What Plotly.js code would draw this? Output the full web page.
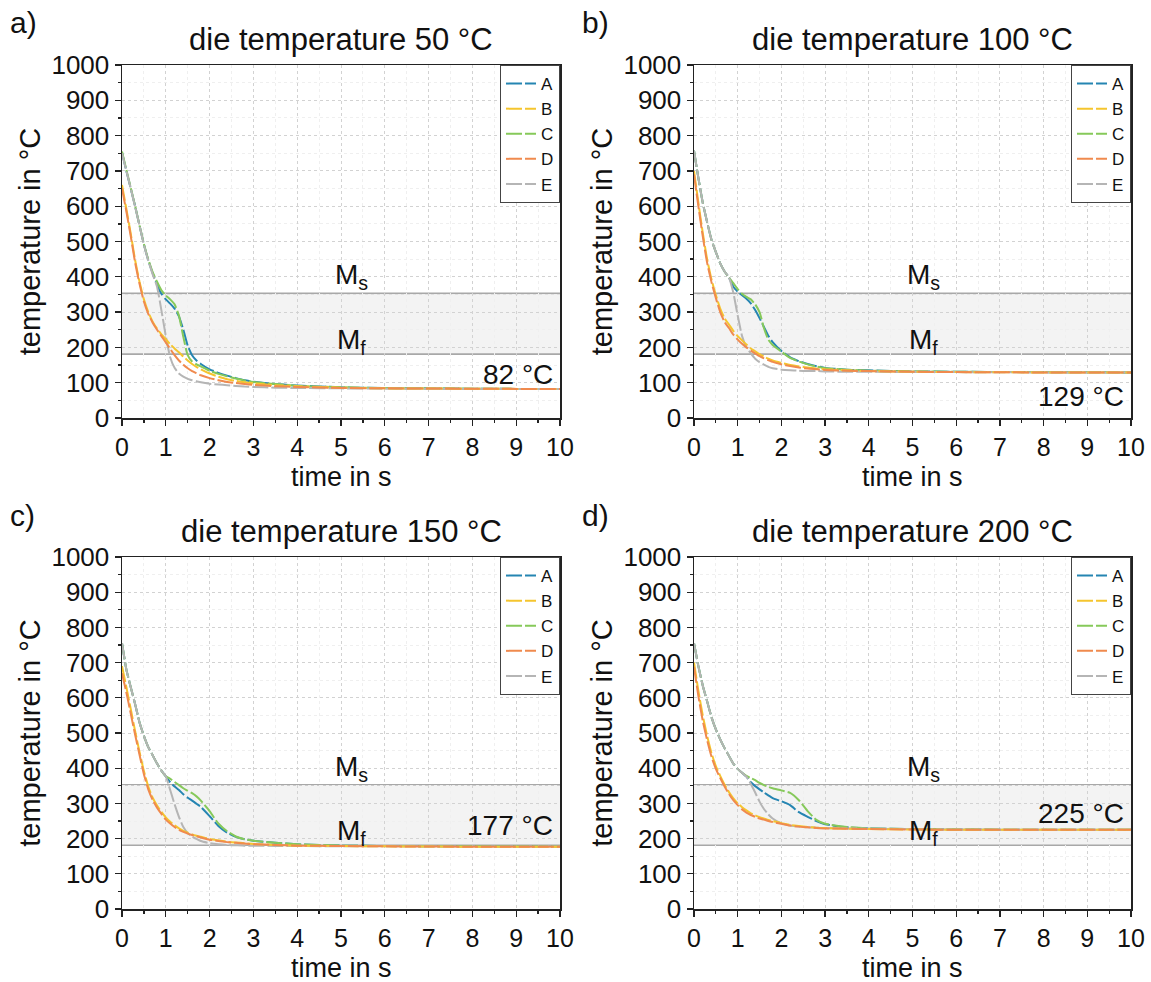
<!DOCTYPE html>
<html>
<head>
<meta charset="utf-8">
<script src="https://cdn.plot.ly/plotly-3.0.1.min.js"></script>
<style>html,body{margin:0;padding:0;background:#fff;}#chart{width:1151px;height:982px;}</style>
</head>
<body>
<div id="chart"></div>
<script>
// ---------------- data ----------------
const time = [0, 0.1, 0.2, 0.3, 0.4, 0.5, 0.6, 0.7, 0.8, 0.9, 1.0, 1.1, 1.2, 1.3, 1.4, 1.5, 1.6, 1.7, 1.8, 2.0, 2.2, 2.4, 2.6, 2.8, 3.0, 3.5, 4.0, 5.0, 6.0, 8.0, 10.0];
const seriesNames = ["A", "B", "C", "D", "E"];
const panelTitles = ["die temperature 50 °C", "die temperature 100 °C", "die temperature 150 °C", "die temperature 200 °C"];
const panelLetters = ["a)", "b)", "c)", "d)"];
const xAxisTitle = "time in s";
const yAxisTitle = "temperature in °C";
const finalLabels = ["82 °C", "129 °C", "177 °C", "225 °C"];
const finalLabelY = [124, 60, 238, 272];
const Ms = 353;
const Mf = 181;

// panel a: die 50 °C
const A_50 = [752,700,650,600,545,492,447,410,378,352,336,324,310,288,250,205,178,163,153,138,128,120,113,107,103,96,92,87,85,83,82];
const B_50 = [660,592,522,447,386,336,300,273,253,237,223,209,197,186,174,163,153,145,138,126,117,110,105,101,98,93,90,86,84,83,82];
const C_50 = [755,703,652,600,546,493,449,413,386,362,347,336,322,290,230,178,160,152,146,134,125,118,112,106,102,96,91,87,85,83,82];
const D_50 = [650,585,515,440,380,330,295,270,250,232,214,196,178,163,151,141,133,127,121,113,107,102,99,96,94,90,88,85,84,83,82];
const E_50 = [750,700,650,598,545,490,446,407,372,305,232,172,142,126,117,111,107,104,101,97,95,93,91,89,88,86,85,84,83,82,82];

// panel b: die 100 °C
const A_100 = [757,680,610,555,505,470,438,415,398,372,358,348,338,325,306,283,258,233,215,190,172,161,153,147,142,137,135,132,131,130,129];
const B_100 = [700,610,525,450,393,348,310,282,265,247,232,220,208,197,189,181,174,168,163,156,150,146,143,140,138,135,133,131,130,129,129];
const C_100 = [757,680,610,555,505,470,438,415,398,382,365,352,343,336,322,300,255,222,207,188,170,160,152,146,141,137,134,132,131,130,129];
const D_100 = [690,600,515,440,385,340,300,272,255,236,222,210,200,191,183,175,169,164,159,152,147,143,140,138,136,134,133,131,130,129,129];
const E_100 = [757,680,610,555,505,470,438,415,398,355,290,232,200,183,168,158,151,145,141,137,135,134,133,133,132,131,131,130,130,129,129];

// panel c: die 150 °C
const A_150 = [755,680,630,582,530,492,460,437,413,393,377,360,348,338,326,316,308,299,290,264,236,217,205,198,194,188,184,180,179,178,177];
const B_150 = [690,630,568,505,446,392,348,316,294,276,260,248,238,229,222,217,212,208,205,199,195,191,189,187,185,182,180,179,178,177,177];
const C_150 = [755,680,630,582,530,492,460,437,413,393,377,370,361,352,343,336,329,320,308,278,243,221,206,198,194,188,184,180,179,178,177];
const D_150 = [670,615,555,495,438,383,340,310,288,270,254,243,233,225,219,214,210,207,203,197,193,190,188,186,184,182,180,179,178,177,177];
const E_150 = [755,680,630,582,530,492,460,437,413,393,377,338,298,262,233,216,206,199,193,187,184,182,181,180,180,179,179,178,178,177,177];

// panel d: die 200 °C
const A_200 = [755,690,635,590,545,510,482,457,435,413,398,387,376,360,349,340,331,323,315,306,295,275,262,250,241,232,229,227,226,225,225];
const B_200 = [700,620,550,492,443,406,378,353,332,314,300,289,280,272,266,261,257,253,250,244,239,236,233,231,230,228,227,226,225,225,225];
const C_200 = [755,690,635,590,545,510,482,457,435,413,398,387,378,372,366,358,352,347,343,337,330,309,278,253,242,233,229,227,226,225,225];
const D_200 = [688,605,535,480,433,398,372,348,327,309,295,283,274,267,262,257,254,250,247,242,237,234,232,230,229,228,227,226,225,225,225];
const E_200 = [755,690,635,590,545,510,482,457,435,413,398,387,376,355,331,305,284,269,257,243,237,234,232,231,230,229,228,227,226,225,225];

const panelData = [
  [A_50, B_50, C_50, D_50, E_50],
  [A_100, B_100, C_100, D_100, E_100],
  [A_150, B_150, C_150, D_150, E_150],
  [A_200, B_200, C_200, D_200, E_200]
];

const xTickVals = [0,1,2,3,4,5,6,7,8,9,10];
const yTickVals = [0,100,200,300,400,500,600,700,800,900,1000];

// ---------------- styling ----------------
const colors = ["#2585b2", "#f5c52e", "#86c95a", "#f08a4e", "#b5b5b5"];
const FONT = "Liberation Sans, Arial, Helvetica, sans-serif";
const W = 1151, H = 982;
const colPx = [[122, 560], [694, 1131]];
const rowPx = [[65, 418], [557, 909]];

const traces = [];
const layout = {
  width: W, height: H,
  margin: {l: 0, r: 0, t: 0, b: 0},
  paper_bgcolor: "#ffffff",
  plot_bgcolor: "#ffffff",
  font: {family: FONT, color: "#111"},
  showlegend: true,
  shapes: [],
  annotations: []
};

const drawOrder = [0, 2, 4, 1, 3];

for (let p = 0; p < 4; p++) {
  const col = p % 2, row = Math.floor(p / 2);
  const xd = [colPx[col][0] / W, colPx[col][1] / W];
  const yd = [1 - rowPx[row][1] / H, 1 - rowPx[row][0] / H];
  const n = p + 1;
  const xs = n === 1 ? "x" : "x" + n;
  const ys = n === 1 ? "y" : "y" + n;
  const xk = n === 1 ? "xaxis" : "xaxis" + n;
  const yk = n === 1 ? "yaxis" : "yaxis" + n;
  const lg = n === 1 ? "legend" : "legend" + n;

  layout[xk] = {
    domain: xd, anchor: ys, range: [0, 10], tickvals: xTickVals,
    ticks: "outside", ticklen: 6, tickwidth: 1.3, tickcolor: "#222",
    showline: true, linecolor: "#222", linewidth: 1.5, mirror: true,
    showgrid: true, gridcolor: "#d2d2d2", griddash: "dot", gridwidth: 1,
    zeroline: false, tickfont: {family: FONT, size: 25, color: "#111"},
    minor: {dtick: 0.5, ticks: "outside", ticklen: 3, tickcolor: "#222", showgrid: true, gridcolor: "#efefef", gridwidth: 1}
  };
  layout[yk] = {
    domain: yd, anchor: xs, range: [0, 1000], tickvals: yTickVals,
    ticks: "outside", ticklen: 6, tickwidth: 1.3, tickcolor: "#222",
    showline: true, linecolor: "#222", linewidth: 1.5, mirror: true,
    showgrid: true, gridcolor: "#d2d2d2", griddash: "dot", gridwidth: 1,
    zeroline: false, tickfont: {family: FONT, size: 26, color: "#111"},
    minor: {dtick: 50, ticks: "outside", ticklen: 3, tickcolor: "#222", showgrid: true, gridcolor: "#efefef", gridwidth: 1},
    title: {text: yAxisTitle, font: {family: FONT, size: 29, color: "#111"}, standoff: 2}
  };
  layout["xaxis" + (n + 4)] = {
    overlaying: xs, anchor: ys, side: "top", range: [0, 10], tickvals: xTickVals,
    ticks: "inside", ticklen: 6, tickwidth: 1.3, tickcolor: "#222",
    showticklabels: false, showgrid: false, showline: false, zeroline: false,
    minor: {dtick: 0.5, ticks: "inside", ticklen: 3, tickcolor: "#222", showgrid: false}
  };
  layout["yaxis" + (n + 4)] = {
    overlaying: ys, anchor: xs, side: "right", range: [0, 1000], tickvals: yTickVals,
    ticks: "inside", ticklen: 6, tickwidth: 1.3, tickcolor: "#222",
    showticklabels: false, showgrid: false, showline: false, zeroline: false,
    minor: {dtick: 50, ticks: "inside", ticklen: 3, tickcolor: "#222", showgrid: false}
  };

  layout[lg] = {
    x: xd[1], y: yd[1], xref: "paper", yref: "paper", xanchor: "right", yanchor: "top",
    bgcolor: "#ffffff", bordercolor: "#444", borderwidth: 1,
    font: {family: FONT, size: 17, color: "#111"},
    itemwidth: 30, tracegroupgap: 0
  };

  // martensite band + lines
  layout.shapes.push({type: "rect", xref: xs, yref: ys, x0: 0, x1: 10, y0: Mf, y1: Ms,
    fillcolor: "#f3f3f3", line: {width: 0}, layer: "below"});
  layout.shapes.push({type: "line", xref: xs, yref: ys, x0: 0, x1: 10, y0: Ms, y1: Ms,
    line: {color: "#a8a8a8", width: 1.6}, layer: "below"});
  layout.shapes.push({type: "line", xref: xs, yref: ys, x0: 0, x1: 10, y0: Mf, y1: Mf,
    line: {color: "#a8a8a8", width: 1.6}, layer: "below"});

  // curves
  for (const s of drawOrder) {
    traces.push({
      type: "scatter", mode: "lines", x: time, y: panelData[p][s],
      xaxis: xs, yaxis: ys, name: seriesNames[s], legend: lg, legendrank: s + 1,
      line: {color: colors[s], width: 2, dash: "16px,3px", shape: "spline", smoothing: 0.5},
      hoverinfo: "x+y+name"
    });
  }

  // annotations
  const txtFont = {family: FONT, size: 28, color: "#111"};
  layout.annotations.push({xref: xs, yref: ys, x: 5.25, y: 400, xanchor: "center", yanchor: "middle",
    text: "M<sub>s</sub>", showarrow: false, font: txtFont});
  layout.annotations.push({xref: xs, yref: ys, x: 5.25, y: 217, xanchor: "center", yanchor: "middle",
    text: "M<sub>f</sub>", showarrow: false, font: txtFont});
  layout.annotations.push({xref: xs, yref: ys, x: 9.88, y: finalLabelY[p], xanchor: "right", yanchor: "middle",
    text: finalLabels[p], showarrow: false, font: txtFont});
  // x-axis title
  layout.annotations.push({xref: "paper", yref: "paper", x: (xd[0] + xd[1]) / 2, y: 1 - (rowPx[row][1] + 59) / H,
    xanchor: "center", yanchor: "middle", borderpad: 0,
    text: xAxisTitle, showarrow: false, font: {family: FONT, size: 27, color: "#111"}});
  layout.annotations.push({xref: "paper", yref: "paper", x: (xd[0] + xd[1]) / 2, y: 1 - (rowPx[row][0] - 26) / H,
    xanchor: "center", yanchor: "middle",
    text: panelTitles[p], showarrow: false, font: {family: FONT, size: 31, color: "#111"}});
  layout.annotations.push({xref: "paper", yref: "paper", x: (col === 0 ? 8 : 580) / W, xanchor: "left",
    y: 1 - (rowPx[row][0] - 42) / H, yanchor: "middle",
    text: panelLetters[p], showarrow: false, font: {family: FONT, size: 30, color: "#111"}});
}

Plotly.newPlot("chart", traces, layout, {displayModeBar: false, staticPlot: true});
</script>
</body>
</html>
